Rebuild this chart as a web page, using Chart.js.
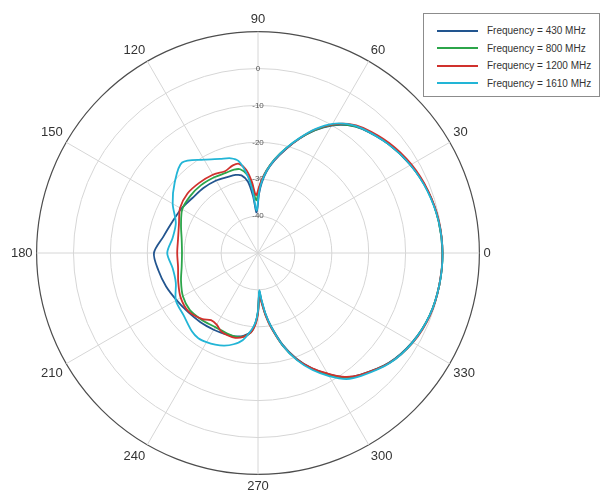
<!DOCTYPE html>
<html>
<head>
<meta charset="utf-8">
<script src="https://cdn.jsdelivr.net/npm/chart.js@4.4.1/dist/chart.umd.min.js"></script>
<style>
  html, body { margin: 0; padding: 0; background: #ffffff; }
  #wrap { position: relative; width: 602px; height: 495px; }
  #legend {
    position: absolute; left: 423px; top: 13px; width: 177px; height: 84px;
    border: 1px solid #8c8c8c; background: #ffffff; box-sizing: border-box;
    font-family: "Liberation Sans", Arial, sans-serif; font-size: 10px; color: #333;
    padding-top: 8px;
  }
  .row { display: flex; align-items: center; height: 17.5px; }
  .swatch { width: 41px; height: 2px; margin-left: 13px; margin-right: 9px; }
</style>
</head>
<body>
<div id="wrap">
  <canvas id="c" width="602" height="495"></canvas>
  <div id="legend"></div>
</div>
<script>
const angles = [0,10,20,30,40,50,55,60,65,70,75,80,84,87,89,92,95,98,102,106,112,120,130,140,150,160,170,180,190,200,210,220,230,235,240,245,250,255,260,265,268,270,272,274,277,280,285,290,295,300,305,310,320,330,340,350];

// Series names
const seriesNames = ["Frequency = 430 MHz", "Frequency = 800 MHz", "Frequency = 1200 MHz", "Frequency = 1610 MHz"];

// Normalised gain (dB) for each frequency, one value per angle above
const gain430 = [0,-0.3,-1.0,-2.3,-4.0,-6.1,-7.7,-10.1,-13.3,-17.0,-20.9,-24.6,-27.8,-31.0,-34.0,
  -39.0,-34.5,-30.5,-28.5,-28.0,-27.8,-27.3,-27.0,-26.8,-26.0,-25.3,-24.0,-21.8,-22.6,-23.5,-24.5,-25.2,-25.6,-25.8,-26.0,-26.2,-26.4,-26.6,-27.2,-28.6,
  -31.2,-34.2,-39.5,-37.4,-33.4,-29.9,-24.3,-19.5,-15.5,-12.1,-8.9,-6.9,-3.7,-1.7,-0.5,-0.1];
const gain800 = [0,-0.3,-1.0,-2.2,-3.9,-6.0,-7.6,-10.0,-13.2,-16.9,-20.6,-24.2,-27.4,-30.2,-32.5,
  -35.7,-31.5,-28.5,-26.8,-26.5,-26.6,-26.3,-26.0,-26.0,-26.3,-27.8,-29.0,-29.4,-29.0,-27.8,-26.5,-25.9,-26.3,-26.6,-26.8,-26.8,-26.6,-26.5,-27.0,-28.5,
  -31.0,-34.0,-39.2,-37.0,-33.0,-29.6,-24.0,-19.3,-15.4,-12.0,-8.8,-6.8,-3.6,-1.6,-0.5,-0.1];
const gain1200 = [0,-0.2,-0.9,-2.0,-3.6,-5.7,-7.3,-9.8,-13.0,-16.9,-20.8,-24.4,-27.5,-30.0,-32.0,
  -34.3,-30.5,-27.3,-25.3,-25.3,-26.1,-25.5,-25.2,-25.0,-25.6,-27.2,-28.0,-28.1,-28.0,-27.0,-25.8,-25.4,-26.6,-27.8,-27.6,-26.5,-26.2,-26.2,-26.9,-28.4,
  -30.6,-33.6,-38.8,-36.6,-32.8,-29.4,-24.0,-19.4,-15.6,-12.3,-9.0,-6.9,-3.6,-1.5,-0.4,-0.1];
const gain1610 = [0,-0.3,-1.1,-2.3,-4.0,-6.0,-7.4,-9.6,-12.9,-16.8,-20.6,-24.3,-27.6,-30.6,-33.5,
  -38.5,-33.0,-28.5,-24.5,-23.3,-22.5,-20.8,-18.0,-20.5,-23.3,-26.3,-26.5,-25.4,-26.5,-26.3,-24.3,-23.7,-22.2,-21.8,-22.1,-22.6,-23.3,-24.4,-26.0,-29.0,
  -31.2,-34.4,-39.8,-37.6,-33.4,-29.8,-24.0,-19.1,-15.0,-11.5,-8.3,-6.5,-3.5,-1.6,-0.5,-0.1];

const seriesColors = ["#22558f", "#2ca54a", "#d0312d", "#22b5d6"];

// Radial tick values and angular tick labels
const radialMin = -50, radialMax = 10, radialStep = 10;
const angleTicks = [0,30,60,90,120,150,180,210,240,270,300,330];

// Radar labels: one per degree, clockwise from the top (90 deg), so angles run counter-clockwise from the right
const degLabels = [];
for (let i = 0; i < 360; i++) degLabels.push((90 - i + 360) % 360);

function buildData(values) {
  const map = {};
  angles.forEach((a, k) => { map[a] = values[k]; });
  return degLabels.map(a => (a in map ? map[a] : null));
}

const allGains = [gain430, gain800, gain1200, gain1610];
const datasets = allGains.map((g, k) => ({
  label: seriesNames[k],
  data: buildData(g),
  borderColor: seriesColors[k],
  borderWidth: 1.8,
  pointRadius: 0,
  pointHoverRadius: 0,
  fill: false,
  spanGaps: true,
  tension: 0.3,
  order: 3 - k
}));

new Chart(document.getElementById('c'), {
  type: 'radar',
  data: { labels: degLabels, datasets },
  options: {
    responsive: false,
    animation: false,
    layout: { padding: { left: 0, right: 93, top: 12, bottom: -12 } },
    plugins: { legend: { display: false }, tooltip: { enabled: false } },
    scales: {
      r: {
        min: radialMin, max: radialMax, beginAtZero: false,
        startAngle: 0,
        ticks: {
          stepSize: radialStep,
          showLabelBackdrop: false,
          backdropPadding: 0,
          color: '#555',
          font: { family: 'Liberation Sans', size: 8 },
          callback: v => (v === radialMax || v === radialMin) ? '' : String(v)
        },
        grid: {
          circular: true,
          color: ctx => (ctx.tick && ctx.tick.value === radialMax) ? '#4d4d4d' : '#d6d6d6',
          lineWidth: ctx => (ctx.tick && ctx.tick.value === radialMax) ? 1.2 : 1
        },
        angleLines: {
          display: true,
          color: ctx => (angleTicks.includes(degLabels[ctx.index]) ? '#d6d6d6' : 'rgba(0,0,0,0)'),
          lineWidth: 1
        },
        pointLabels: {
          display: true,
          padding: 0,
          color: '#333',
          font: { family: 'Liberation Sans', size: 13 },
          callback: (label) => angleTicks.includes(label) ? String(label) : ''
        }
      }
    }
  }
});

// HTML legend
const lg = document.getElementById('legend');
seriesNames.forEach((n, k) => {
  const row = document.createElement('div');
  row.className = 'row';
  const sw = document.createElement('div');
  sw.className = 'swatch';
  sw.style.background = seriesColors[k];
  const tx = document.createElement('span');
  tx.textContent = n;
  row.appendChild(sw); row.appendChild(tx);
  lg.appendChild(row);
});
</script>
</body>
</html>
